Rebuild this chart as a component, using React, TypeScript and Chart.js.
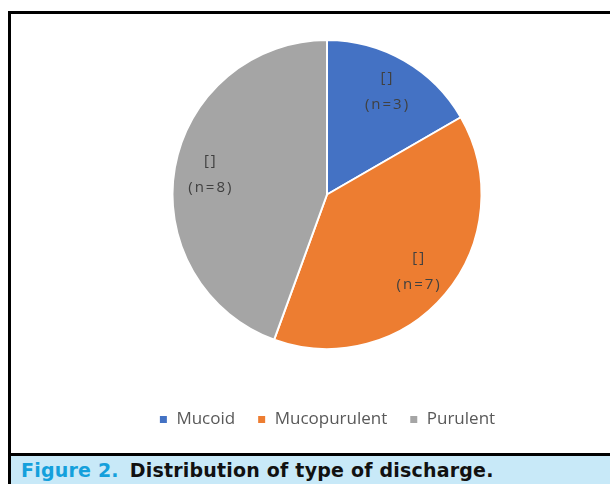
import React, { useEffect, useRef } from "react";
import { Chart, registerables } from "chart.js";

Chart.register(...registerables);

const categories = ["Mucoid", "Mucopurulent", "Purulent"];
const counts = [3, 7, 8];
const placeholderLabels = ["[]", "[]", "[]"];
const sliceColors = ["#4472C4", "#ED7D31", "#A5A5A5"];

const sliceLabelPlugin = {
  id: "sliceLabels",
  afterDatasetsDraw(chart: any) {
    const meta = chart.getDatasetMeta(0);
    const ctx = chart.ctx;
    ctx.save();
    ctx.font = "15px 'Open Sans'";
    ctx.fillStyle = "#404040";
    ctx.textAlign = "center";
    ctx.textBaseline = "middle";
    try {
      (ctx as any).letterSpacing = "2px";
    } catch (e) {}
    meta.data.forEach((arc: any, i: number) => {
      const p = arc.getProps(["startAngle", "endAngle", "x", "y", "outerRadius"], true);
      const mid = (p.startAngle + p.endAngle) / 2;
      const r = p.outerRadius * 0.77;
      const cx = p.x + Math.cos(mid) * r;
      const cy = p.y + Math.sin(mid) * r;
      ctx.fillText(placeholderLabels[i], cx + 1, cy - 13.5);
      ctx.fillText(`(n=${counts[i]})`, cx + 1, cy + 13.5);
    });
    ctx.restore();
  },
};

export default function App() {
  const canvasRef = useRef<HTMLCanvasElement | null>(null);

  useEffect(() => {
    if (!canvasRef.current) return;
    const chart = new Chart(canvasRef.current, {
      type: "pie",
      data: {
        labels: categories,
        datasets: [
          {
            data: counts,
            backgroundColor: sliceColors,
            borderColor: "#ffffff",
            borderWidth: 2,
            hoverOffset: 0,
          },
        ],
      },
      options: {
        responsive: false,
        animation: false,
        events: [],
        radius: 154.5,
        layout: { padding: { left: 33, right: 0, top: 0, bottom: 15 } },
        plugins: {
          tooltip: { enabled: false },
          legend: {
            position: "bottom",
            title: { display: true, text: "", font: { size: 10 }, padding: { top: 2, bottom: 0 } },
            labels: {
              boxWidth: 9,
              boxHeight: 9,
              padding: 22,
              color: "#595959",
              font: { family: "'Open Sans'", size: 17 },
            },
          },
        },
      } as any,
      plugins: [sliceLabelPlugin],
    });
    return () => chart.destroy();
  }, []);

  return (
    <div
      style={{
        position: "absolute",
        left: 0,
        top: 0,
        width: 610,
        height: 484,
        overflow: "hidden",
        background: "#ffffff",
      }}
    >
      <div
        style={{
          position: "absolute",
          left: 8,
          top: 11,
          width: 610,
          height: 480,
          borderLeft: "3px solid #000",
          borderTop: "3px solid #000",
        }}
      >
        <div style={{ position: "absolute", left: 0, top: 0, width: 599, height: 439 }}>
          <canvas ref={canvasRef} width={599} height={439} style={{ display: "block" }} />
        </div>
        <div
          style={{
            position: "absolute",
            left: 0,
            top: 439,
            width: 610,
            height: 0,
            borderTop: "3px solid #000",
          }}
        />
        <div
          style={{
            position: "absolute",
            left: 0,
            top: 442,
            width: 610,
            height: 28,
            background: "#C8E9F8",
            fontFamily: "'DejaVu Sans', sans-serif",
            fontWeight: "bold",
            fontSize: 19,
            letterSpacing: "0.2px",
            lineHeight: "28px",
            paddingLeft: 10,
            whiteSpace: "nowrap",
            boxSizing: "border-box",
          }}
        >
          <span style={{ color: "#14A0DC" }}>Figure 2.</span>
          <span style={{ color: "#111111", marginLeft: 11 }}>Distribution of type of discharge.</span>
        </div>
      </div>
    </div>
  );
}
